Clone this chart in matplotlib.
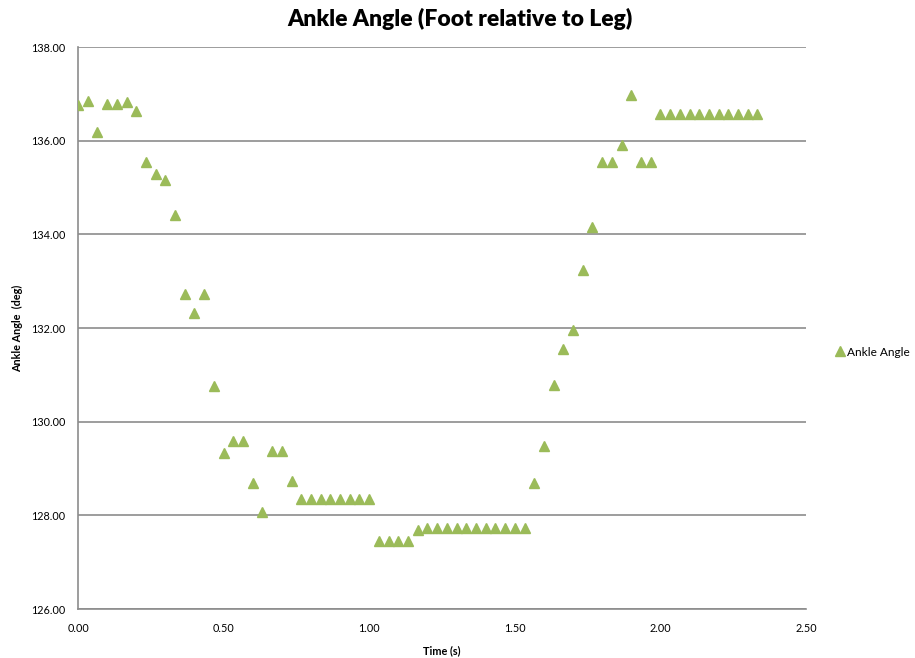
import matplotlib.pyplot as plt
from matplotlib.ticker import FormatStrFormatter, MultipleLocator

plt.rcParams["font.family"] = ["Lato", "DejaVu Sans"]

# sample times (s), 30 frames per second
time_s = [i / 30 for i in range(71)]

# ankle angle (deg) per frame
ankle_deg = [
    136.77, 136.84, 136.19, 136.79, 136.79, 136.82, 136.64, 135.55, 135.28, 135.15,
    134.42, 132.72, 132.31, 132.72, 130.77, 129.33, 129.58, 129.58, 128.68, 128.08,
    129.38, 129.38, 128.73, 128.34, 128.34, 128.34, 128.34, 128.34, 128.34, 128.34,
    128.34, 127.45, 127.45, 127.45, 127.45, 127.69, 127.73, 127.73, 127.73, 127.73,
    127.73, 127.73, 127.73, 127.73, 127.73, 127.73, 127.73, 128.70, 129.49, 130.79,
    131.56, 131.96, 133.23, 134.16, 135.54, 135.54, 135.90, 136.98, 135.54, 135.54,
    136.56, 136.56, 136.56, 136.56, 136.56, 136.56, 136.56, 136.56, 136.56, 136.56,
    136.56,
]

GREEN = "#9BBB59"
GRID = "#8C8C8C"

fig = plt.figure(figsize=(9.15, 6.58), dpi=100)
ax = fig.add_axes([78 / 915, 1 - 609 / 658, 728 / 915, 562 / 658])

ax.plot(time_s, ankle_deg, linestyle="none", marker="^", markersize=7.5,
        color=GREEN, markeredgecolor=GREEN, label="Ankle Angle", zorder=3)

ax.set_xlim(0, 2.5)
ax.set_ylim(126, 138)
ax.xaxis.set_major_locator(MultipleLocator(0.5))
ax.yaxis.set_major_locator(MultipleLocator(2))
ax.xaxis.set_major_formatter(FormatStrFormatter("%.2f"))
ax.yaxis.set_major_formatter(FormatStrFormatter("%.2f"))
ax.tick_params(length=0, labelsize=7.8, colors="black", pad=9)
ax.tick_params(axis="x", pad=10)

ax.grid(axis="y", color=GRID, linewidth=1.2)
ax.set_axisbelow(True)
for side in ("top", "right"):
    ax.spines[side].set_visible(False)
for side in ("left", "bottom"):
    ax.spines[side].set_color(GRID)
    ax.spines[side].set_linewidth(1.2)

# title is centred on the whole chart, legend included
fig.text(0.503, 1 - 19 / 658, "Ankle Angle (Foot relative to Leg)", fontsize=16.5,
         fontweight="heavy", ha="center", va="center")
ax.set_xlabel("Time (s)", fontsize=7.8, fontweight="bold", labelpad=8)
ax.set_ylabel("Ankle Angle  (deg)", fontsize=7.8, fontweight="bold", labelpad=6)

fig.legend(loc="center left", bbox_to_anchor=(828 / 915, 1 - 352 / 658), frameon=False,
           fontsize=8.6, handletextpad=0.0, handlelength=1.2, borderaxespad=0)

fig.savefig("out.png", dpi=100)
